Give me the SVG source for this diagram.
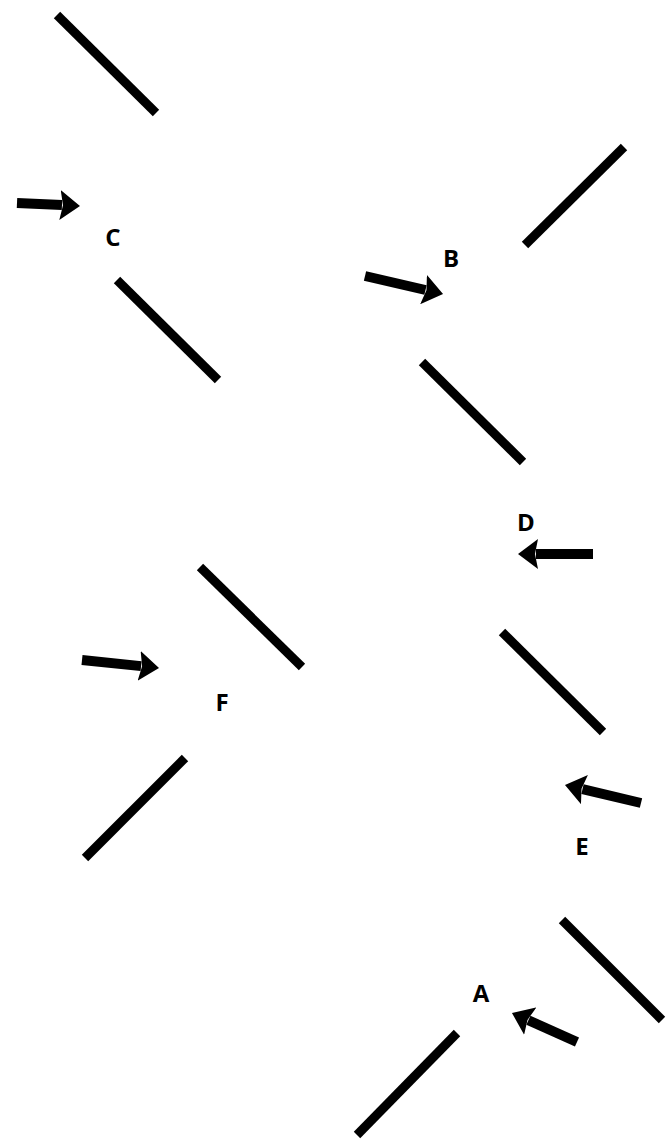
<svg xmlns="http://www.w3.org/2000/svg" width="668" height="1141" viewBox="0 0 668 1141">
  <style>
    .bar { stroke: #000; stroke-width: 9; fill: none; stroke-linecap: butt; }
    .shaft { stroke: #000; stroke-width: 10; fill: none; marker-end: url(#head); }
    .lbl { font-family: "Open Sans", "Liberation Sans", sans-serif; font-weight: bold; font-size: 24px; fill: #000; text-anchor: middle; }
  </style>
  <defs>
    <marker id="head" markerUnits="userSpaceOnUse" viewBox="0 0 20 30" refX="2" refY="15" markerWidth="20" markerHeight="30" orient="auto">
      <path d="M0,0 L20,15 L0,30 L3,15 Z" fill="#000"/>
    </marker>
  </defs>
  <rect width="668" height="1141" fill="#fff"/>
  <g id="bars">
    <line class="bar" x1="57" y1="15" x2="156" y2="113"/>
    <line class="bar" x1="117" y1="280" x2="218" y2="380"/>
    <line class="bar" x1="624" y1="147" x2="525" y2="245"/>
    <line class="bar" x1="422" y1="362" x2="523" y2="462"/>
    <line class="bar" x1="200" y1="567" x2="302" y2="667"/>
    <line class="bar" x1="185" y1="758" x2="85" y2="858"/>
    <line class="bar" x1="502" y1="632" x2="603" y2="732"/>
    <line class="bar" x1="562" y1="920" x2="662" y2="1020"/>
    <line class="bar" x1="457" y1="1033" x2="357" y2="1135"/>
  </g>
  <g id="connectors">
    <line class="shaft" x1="17" y1="203" x2="62" y2="205.1"/>
    <line class="shaft" x1="365" y1="276" x2="425.5" y2="290"/>
    <line class="shaft" x1="593" y1="554" x2="536" y2="554"/>
    <line class="shaft" x1="641" y1="803" x2="582.5" y2="789.1"/>
    <line class="shaft" x1="82" y1="660" x2="141.1" y2="666.1"/>
    <line class="shaft" x1="577" y1="1042" x2="528.4" y2="1020.3"/>
  </g>
  <g id="node-C"><text class="lbl" x="113" y="246">C</text></g>
  <g id="node-B"><text class="lbl" x="451" y="267">B</text></g>
  <g id="node-D"><text class="lbl" x="526" y="531">D</text></g>
  <g id="node-E"><text class="lbl" x="582" y="855">E</text></g>
  <g id="node-F"><text class="lbl" x="222" y="711">F</text></g>
  <g id="node-A"><text class="lbl" x="481" y="1002">A</text></g>
</svg>
